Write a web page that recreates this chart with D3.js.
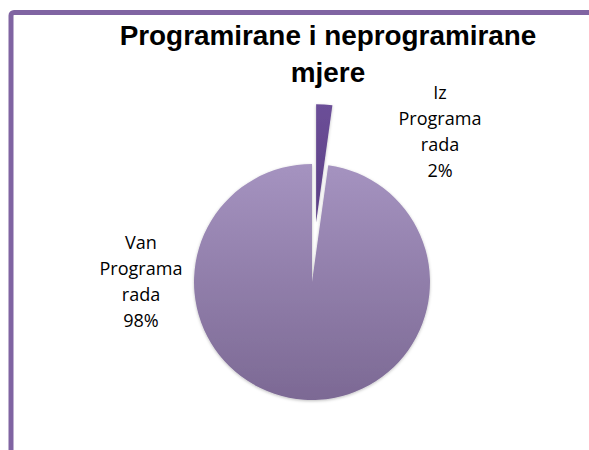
<!DOCTYPE html>
<html><head><meta charset="utf-8">
<script src="https://cdn.jsdelivr.net/npm/d3@7"></script>
<style>html,body{margin:0;padding:0;background:#fff;}svg{display:block;}</style>
</head><body>
<script>
const categories = ["Iz Programa rada", "Van Programa rada"];
const values = [2.2, 97.8];
const labelLines = [["Iz", "Programa", "rada"], ["Van", "Programa", "rada"]];
const titleLines = ["Programirane i neprogramirane", "mjere"];

const W = 589, H = 450;
const svg = d3.select("body").append("svg").attr("width", W).attr("height", H);
const defs = svg.append("defs");

const g1 = defs.append("linearGradient").attr("id", "gMain").attr("x1", 0).attr("y1", 0).attr("x2", 0).attr("y2", 1);
g1.append("stop").attr("offset", "0%").attr("stop-color", "#a593c0");
g1.append("stop").attr("offset", "100%").attr("stop-color", "#7c6994");
const g2 = defs.append("linearGradient").attr("id", "gSmall").attr("x1", 0).attr("y1", 0).attr("x2", 0).attr("y2", 1);
g2.append("stop").attr("offset", "0%").attr("stop-color", "#6c4f98");
g2.append("stop").attr("offset", "100%").attr("stop-color", "#5a3e84");
const f = defs.append("filter").attr("id", "sh").attr("x", "-20%").attr("y", "-20%").attr("width", "140%").attr("height", "140%");
f.append("feDropShadow").attr("dx", 0).attr("dy", 1).attr("stdDeviation", 1.5).attr("flood-color", "#000").attr("flood-opacity", 0.25);

// frame
svg.append("rect").attr("x", 11).attr("y", 12.5).attr("width", 700).attr("height", 600)
  .attr("rx", 3).attr("fill", "none").attr("stroke", "#8064a2").attr("stroke-width", 5);

const cx = 312, cy = 282, R = 118, explode = 60;
const pie = d3.pie().sort(null).value(d => d.v)(values.map((v, i) => ({v, i})));
const arc = d3.arc().innerRadius(0).outerRadius(R);
const fills = ["url(#gSmall)", "url(#gMain)"];

const pg = svg.append("g").attr("transform", `translate(${cx},${cy})`);
pie.forEach((d, i) => {
  const mid = (d.startAngle + d.endAngle) / 2;
  const off = i === 0 ? explode : 0;
  const dx = Math.sin(mid) * off, dy = -Math.cos(mid) * off;
  pg.append("path").attr("d", arc(d)).attr("transform", `translate(${dx},${dy})`)
    .attr("fill", fills[i]).attr("filter", "url(#sh)");
});

// title
const tfont = "'Liberation Sans', Arial, sans-serif";
const title = svg.append("g");
const t1 = title.append("text").attr("x", 328).attr("y", 45).attr("text-anchor", "middle")
  .attr("font-family", tfont).attr("font-weight", "bold").attr("font-size", 24).attr("fill", "#000").text(titleLines[0]);
let w = t1.node().getComputedTextLength();
const tsize = 24 * 417 / w;
t1.attr("font-size", tsize);
title.append("text").attr("x", 328).attr("y", 82).attr("text-anchor", "middle")
  .attr("font-family", tfont).attr("font-weight", "bold").attr("font-size", tsize).attr("fill", "#000").text(titleLines[1]);

// labels
const lfont = "'Open Sans', sans-serif";
const tmp = svg.append("text").attr("font-family", lfont).attr("font-size", 16).text("Programa");
const lsize = 16 * 83 / tmp.node().getComputedTextLength();
tmp.remove();
const labelPos = [[440, 99], [141, 249]];
const total = d3.sum(values);
pie.forEach((d, i) => {
  const lines = labelLines[i].concat([Math.round(values[i] / total * 100) + "%"]);
  const t = svg.append("text").attr("font-family", lfont).attr("font-size", lsize).attr("fill", "#000")
    .attr("text-anchor", "middle");
  lines.forEach((s, k) => {
    t.append("tspan").attr("x", labelPos[i][0]).attr("y", labelPos[i][1] + k * 26).text(s);
  });
});
</script>
</body></html>
